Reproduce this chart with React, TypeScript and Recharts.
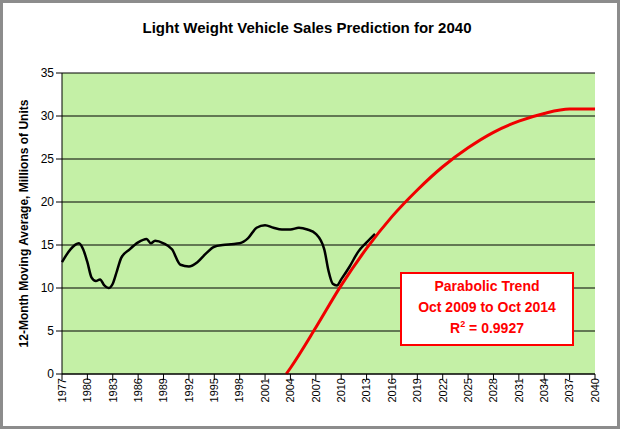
import React from 'react';
import { LineChart, Line, XAxis, YAxis, CartesianGrid, Label } from 'recharts';

const salesYears = [1977, 1978, 1979, 1979.5, 1980, 1980.5, 1981, 1981.5, 1982, 1982.5, 1983, 1983.5, 1984, 1985, 1986, 1987, 1987.5, 1988, 1989, 1990, 1991, 1992, 1993, 1994, 1995, 1996, 1997, 1998, 1999, 2000, 2001, 2002, 2003, 2004, 2005, 2006, 2007, 2008, 2008.5, 2009, 2009.5, 2010, 2011, 2012, 2013, 2014];
const salesValues = [13, 14.5, 15.2, 14.5, 13, 11.2, 10.8, 11, 10.3, 10, 10.5, 12, 13.5, 14.5, 15.3, 15.7, 15.2, 15.5, 15.2, 14.5, 12.7, 12.5, 13, 14, 14.8, 15, 15.1, 15.2, 15.8, 17, 17.3, 17, 16.8, 16.8, 17, 16.8, 16.3, 14.5, 12, 10.5, 10.3, 11, 12.5, 14.2, 15.3, 16.3];

const trendYears = [2003.5, 2004, 2007, 2010, 2013, 2016, 2019, 2022, 2025, 2028, 2031, 2034, 2037, 2040];
const trendValues = [0, 0.7, 5.4, 10.3, 14.6, 18.3, 21.4, 24.1, 26.3, 28.1, 29.4, 30.3, 30.8, 30.8];

const xTicks = [1977, 1980, 1983, 1986, 1989, 1992, 1995, 1998, 2001, 2004, 2007, 2010, 2013, 2016, 2019, 2022, 2025, 2028, 2031, 2034, 2037, 2040];
const yTicks = [0, 5, 10, 15, 20, 25, 30, 35];

const sales = salesYears.map((year, i) => ({ year, value: salesValues[i] }));
const trend = trendYears.map((year, i) => ({ year, value: trendValues[i] }));

const font = 'Arial, "Liberation Sans", sans-serif';

export default function App() {
  return (
    <div style={{ position: 'absolute', left: 0, top: 0, width: 620, height: 429, background: '#fff', boxSizing: 'border-box', border: '3px solid #8c8c8c', fontFamily: font }}>
      <div style={{ position: 'absolute', top: 16, width: '100%', textAlign: 'center', fontSize: 15, fontWeight: 'bold', color: '#000', left: -3 }}>
        Light Weight Vehicle Sales Prediction for 2040
      </div>
      <div style={{ position: 'absolute', left: -3, top: -3 }}>
        <LineChart width={620} height={429} margin={{ top: 73, right: 25, bottom: 0, left: 0 }}>
          <CartesianGrid vertical={false} stroke="#000" fill="#c4f0a6" />
          <XAxis type="number" dataKey="year" domain={[1977, 2040]} ticks={xTicks} interval={0} angle={-90} textAnchor="end" dy={-4} dx={-4} height={55} tick={{ fontSize: 11, fill: '#000', fontFamily: font }} stroke="#000" allowDuplicatedCategory={false} />
          <YAxis type="number" domain={[0, 35]} ticks={yTicks} width={62} tick={{ fontSize: 12, fill: '#000', fontFamily: font }} stroke="#000">
            <Label value="12-Month Moving Average, Millions of Units" angle={-90} position="insideLeft" offset={24} style={{ textAnchor: 'middle', fontSize: 12, fontWeight: 'bold', fill: '#000', fontFamily: font }} />
          </YAxis>
          <Line data={sales} dataKey="value" type="monotone" stroke="#000" strokeWidth={2.5} dot={false} isAnimationActive={false} />
          <Line data={trend} dataKey="value" type="monotone" stroke="#f00000" strokeWidth={3} dot={false} isAnimationActive={false} />
        </LineChart>
      </div>
      <div style={{ position: 'absolute', left: 397, top: 269, width: 170, height: 68, background: '#fff', border: '2px solid #f00', color: '#f00', fontWeight: 'bold', fontSize: 14, textAlign: 'center', lineHeight: '21px', paddingTop: 2 }}>
        <div>Parabolic Trend</div>
        <div>Oct 2009 to Oct 2014</div>
        <div>R<sup style={{ fontSize: 9, lineHeight: 0 }}>2</sup> = 0.9927</div>
      </div>
    </div>
  );
}
